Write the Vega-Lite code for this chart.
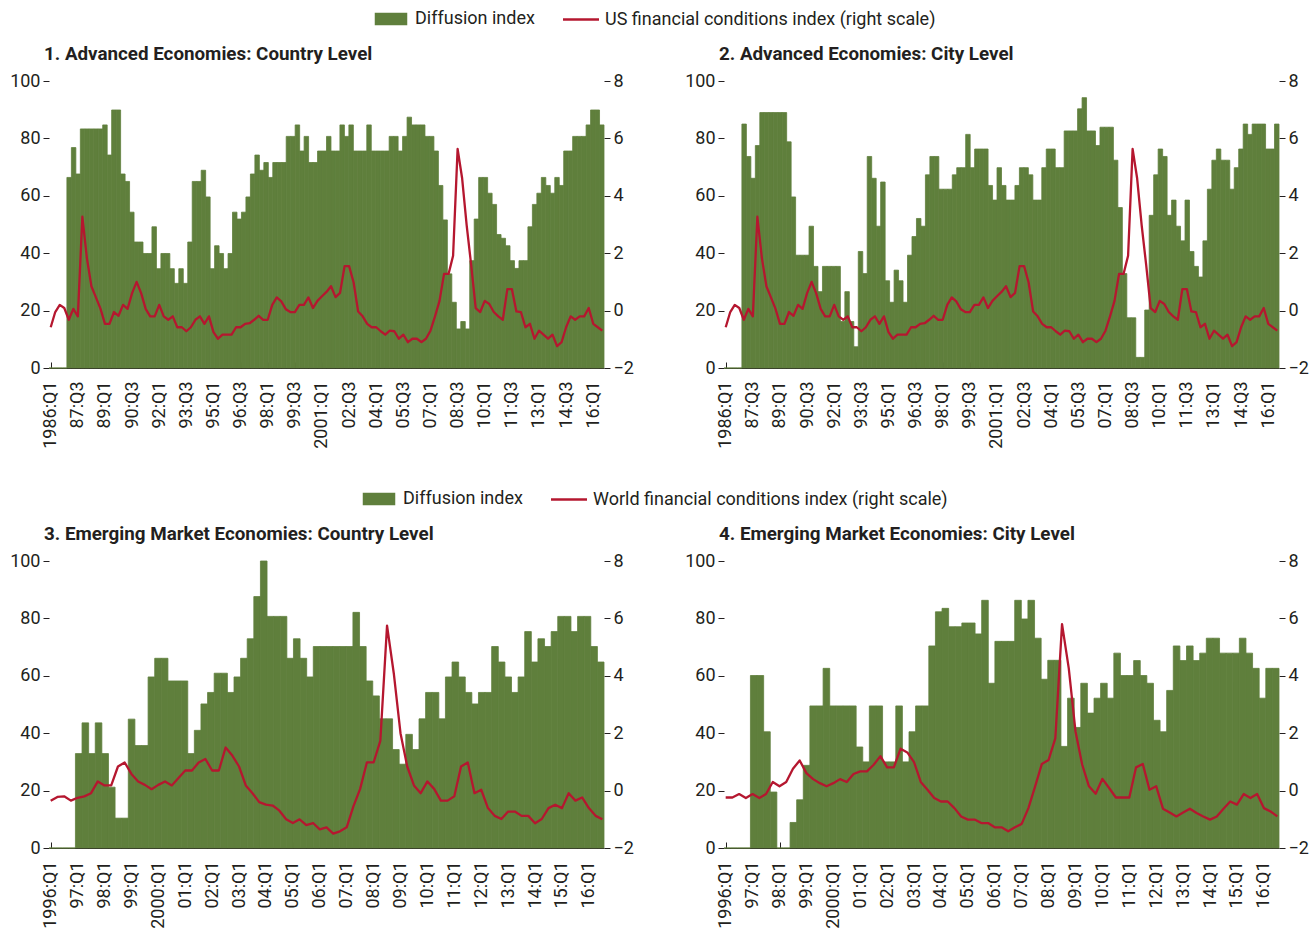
{
  "$schema": "https://vega.github.io/schema/vega-lite/v6.json",
  "background": "white",
  "padding": {"left": 9, "top": 10, "right": 0, "bottom": 0},
  "config": {
    "font": "Roboto",
    "view": {"stroke": null},
    "axis": {"labelFont": "Roboto", "labelFontSize": 18, "labelColor": "#231f20", "tickColor": "#231f20", "domainColor": "#231f20", "grid": false, "tickWidth": 1, "domainWidth": 1},
    "title": {"font": "Roboto", "fontSize": 18.8, "fontWeight": "bold", "color": "#231f20", "anchor": "start"},
    "legend": {"labelFont": "Roboto", "labelFontSize": 18, "labelColor": "#231f20", "labelLimit": 600, "layout": {"top": {"anchor": "middle"}}}
  },
  "datasets": {
    "top": [
      {"q":"1986:Q1","a":0,"b":0,"f":-0.58},{"q":"86:Q2","a":0,"b":0,"f":-0.05},{"q":"86:Q3","a":0,"b":0,"f":0.2},{"q":"86:Q4","a":0,"b":0,"f":0.09},
      {"q":"87:Q1","a":66.4,"b":85,"f":-0.32},{"q":"87:Q2","a":76.8,"b":73.7,"f":0.06},{"q":"87:Q3","a":67.6,"b":66.1,"f":-0.2},{"q":"87:Q4","a":83.3,"b":77.5,"f":3.27},
      {"q":"88:Q1","a":83.3,"b":89,"f":1.83},{"q":"88:Q2","a":83.3,"b":89,"f":0.85},{"q":"88:Q3","a":83.3,"b":89,"f":0.46},{"q":"88:Q4","a":83.3,"b":89,"f":0.07},
      {"q":"89:Q1","a":84.7,"b":89,"f":-0.46},{"q":"89:Q2","a":74.2,"b":89,"f":-0.46},{"q":"89:Q3","a":89.9,"b":78.8,"f":-0.05},{"q":"89:Q4","a":89.9,"b":59.6,"f":-0.18},
      {"q":"90:Q1","a":67.6,"b":39.3,"f":0.2},{"q":"90:Q2","a":65,"b":39.3,"f":0.06},{"q":"90:Q3","a":54.3,"b":39.3,"f":0.61},{"q":"90:Q4","a":43.9,"b":49.4,"f":1.0},
      {"q":"91:Q1","a":43.9,"b":35.4,"f":0.61},{"q":"91:Q2","a":39.9,"b":26.6,"f":0.06},{"q":"91:Q3","a":39.9,"b":35.4,"f":-0.2},{"q":"91:Q4","a":49.2,"b":35.4,"f":-0.2},
      {"q":"92:Q1","a":34.6,"b":35.4,"f":0.2},{"q":"92:Q2","a":39.9,"b":35.4,"f":-0.2},{"q":"92:Q3","a":39.9,"b":16.2,"f":-0.32},{"q":"92:Q4","a":34.6,"b":26.6,"f":-0.2},
      {"q":"93:Q1","a":29.5,"b":16.2,"f":-0.58},{"q":"93:Q2","a":34.6,"b":7.4,"f":-0.58},{"q":"93:Q3","a":29.5,"b":40.6,"f":-0.72},{"q":"93:Q4","a":43.9,"b":32.9,"f":-0.58},
      {"q":"94:Q1","a":65,"b":73.7,"f":-0.32},{"q":"94:Q2","a":65,"b":66.1,"f":-0.2},{"q":"94:Q3","a":68.9,"b":49.4,"f":-0.46},{"q":"94:Q4","a":59.6,"b":64.8,"f":-0.2},
      {"q":"95:Q1","a":34.6,"b":30.4,"f":-0.75},{"q":"95:Q2","a":42.6,"b":22.9,"f":-0.98},{"q":"95:Q3","a":39.9,"b":34.1,"f":-0.84},{"q":"95:Q4","a":34.6,"b":30.4,"f":-0.84},
      {"q":"96:Q1","a":39.9,"b":22.9,"f":-0.84},{"q":"96:Q2","a":54.3,"b":39.3,"f":-0.58},{"q":"96:Q3","a":51.9,"b":45.8,"f":-0.58},{"q":"96:Q4","a":54.3,"b":52.1,"f":-0.46},
      {"q":"97:Q1","a":59.6,"b":49.4,"f":-0.44},{"q":"97:Q2","a":67.6,"b":67.3,"f":-0.32},{"q":"97:Q3","a":74.2,"b":73.7,"f":-0.18},{"q":"97:Q4","a":68.9,"b":73.7,"f":-0.32},
      {"q":"98:Q1","a":71.6,"b":62.3,"f":-0.32},{"q":"98:Q2","a":66.4,"b":62.3,"f":0.2},{"q":"98:Q3","a":71.6,"b":62.3,"f":0.46},{"q":"98:Q4","a":71.6,"b":67.3,"f":0.32},
      {"q":"99:Q1","a":71.6,"b":69.8,"f":0.05},{"q":"99:Q2","a":80.7,"b":69.8,"f":-0.05},{"q":"99:Q3","a":80.7,"b":81.4,"f":-0.05},{"q":"99:Q4","a":84.7,"b":69.8,"f":0.2},
      {"q":"00:Q1","a":75.6,"b":76.3,"f":0.2},{"q":"00:Q2","a":80.7,"b":76.3,"f":0.46},{"q":"00:Q3","a":71.6,"b":76.3,"f":0.09},{"q":"00:Q4","a":71.6,"b":63.6,"f":0.34},
      {"q":"2001:Q1","a":75.6,"b":58.5,"f":0.5},{"q":"01:Q2","a":75.6,"b":69.8,"f":0.65},{"q":"01:Q3","a":80.7,"b":63.6,"f":0.85},{"q":"01:Q4","a":75.6,"b":58.5,"f":0.47},
      {"q":"02:Q1","a":75.6,"b":58.5,"f":0.62},{"q":"02:Q2","a":84.7,"b":63.6,"f":1.55},{"q":"02:Q3","a":80.7,"b":69.8,"f":1.55},{"q":"02:Q4","a":84.7,"b":69.8,"f":0.98},
      {"q":"03:Q1","a":75.6,"b":67.3,"f":-0.03},{"q":"03:Q2","a":75.6,"b":58.5,"f":-0.2},{"q":"03:Q3","a":75.6,"b":58.5,"f":-0.46},{"q":"03:Q4","a":84.7,"b":69.8,"f":-0.58},
      {"q":"04:Q1","a":75.6,"b":76.3,"f":-0.58},{"q":"04:Q2","a":75.6,"b":76.3,"f":-0.72},{"q":"04:Q3","a":75.6,"b":69.8,"f":-0.84},{"q":"04:Q4","a":75.6,"b":69.8,"f":-0.7},
      {"q":"05:Q1","a":80.7,"b":82.6,"f":-0.72},{"q":"05:Q2","a":80.7,"b":82.6,"f":-0.98},{"q":"05:Q3","a":75.6,"b":82.6,"f":-0.84},{"q":"05:Q4","a":80.7,"b":90.3,"f":-1.1},
      {"q":"06:Q1","a":87.4,"b":94.2,"f":-0.98},{"q":"06:Q2","a":84.7,"b":82.6,"f":-0.98},{"q":"06:Q3","a":84.7,"b":82.6,"f":-1.1},{"q":"06:Q4","a":84.7,"b":77.5,"f":-0.98},
      {"q":"07:Q1","a":80.7,"b":83.9,"f":-0.7},{"q":"07:Q2","a":80.7,"b":83.9,"f":-0.2},{"q":"07:Q3","a":75.6,"b":83.9,"f":0.34},{"q":"07:Q4","a":63.6,"b":72.4,"f":1.28},
      {"q":"08:Q1","a":51.6,"b":55.9,"f":1.28},{"q":"08:Q2","a":32.8,"b":32.9,"f":1.91},{"q":"08:Q3","a":22.9,"b":17.5,"f":5.63},{"q":"08:Q4","a":13.6,"b":17.5,"f":4.61},
      {"q":"09:Q1","a":16.2,"b":3.7,"f":2.98},{"q":"09:Q2","a":13.6,"b":3.7,"f":1.59},{"q":"09:Q3","a":37.4,"b":20.2,"f":0.09},{"q":"09:Q4","a":51.9,"b":53.2,"f":-0.05},
      {"q":"10:Q1","a":66.4,"b":67.3,"f":0.34},{"q":"10:Q2","a":66.4,"b":76.3,"f":0.23},{"q":"10:Q3","a":60.9,"b":73.7,"f":-0.05},{"q":"10:Q4","a":57,"b":53.2,"f":-0.2},
      {"q":"11:Q1","a":46.5,"b":58.5,"f":-0.32},{"q":"11:Q2","a":45.2,"b":49.4,"f":0.75},{"q":"11:Q3","a":42.6,"b":44.3,"f":0.75},{"q":"11:Q4","a":37.4,"b":58.5,"f":-0.03},
      {"q":"12:Q1","a":34.7,"b":40.6,"f":-0.05},{"q":"12:Q2","a":37.4,"b":35.4,"f":-0.58},{"q":"12:Q3","a":37.4,"b":31.7,"f":-0.46},{"q":"12:Q4","a":49.2,"b":44.3,"f":-0.98},
      {"q":"13:Q1","a":57,"b":62.3,"f":-0.7},{"q":"13:Q2","a":60.9,"b":72.4,"f":-0.84},{"q":"13:Q3","a":66.4,"b":76.3,"f":-0.98},{"q":"13:Q4","a":63.6,"b":72.4,"f":-0.84},
      {"q":"14:Q1","a":60.9,"b":72.4,"f":-1.24},{"q":"14:Q2","a":66.4,"b":62.3,"f":-1.1},{"q":"14:Q3","a":63.6,"b":69.8,"f":-0.58},{"q":"14:Q4","a":75.6,"b":76.3,"f":-0.2},
      {"q":"15:Q1","a":75.6,"b":85,"f":-0.32},{"q":"15:Q2","a":80.7,"b":81.4,"f":-0.2},{"q":"15:Q3","a":80.7,"b":85,"f":-0.2},{"q":"15:Q4","a":80.7,"b":85,"f":0.09},
      {"q":"16:Q1","a":84.7,"b":85,"f":-0.46},{"q":"16:Q2","a":89.9,"b":76.3,"f":-0.58},{"q":"16:Q3","a":89.9,"b":76.3,"f":-0.7},{"q":"16:Q4","a":84.7,"b":85,"f":null}
    ],
    "bot": [
      {"q":"1996:Q1","c":0,"d":0,"w":-0.35,"v":-0.24},{"q":"96:Q2","c":0,"d":0,"w":-0.22,"v":-0.24},{"q":"96:Q3","c":0,"d":0,"w":-0.2,"v":-0.12},{"q":"96:Q4","c":0,"d":0,"w":-0.35,"v":-0.26},
      {"q":"97:Q1","c":32.9,"d":60.1,"w":-0.25,"v":-0.12},{"q":"97:Q2","c":43.6,"d":60.1,"w":-0.2,"v":-0.26},{"q":"97:Q3","c":32.9,"d":40.5,"w":-0.09,"v":-0.12},{"q":"97:Q4","c":43.6,"d":19.5,"w":0.32,"v":0.3},
      {"q":"98:Q1","c":32.9,"d":0,"w":0.18,"v":0.15},{"q":"98:Q2","c":21.2,"d":0,"w":0.18,"v":0.3},{"q":"98:Q3","c":10.4,"d":8.9,"w":0.84,"v":0.76},{"q":"98:Q4","c":10.4,"d":16.8,"w":0.98,"v":1.05},
      {"q":"99:Q1","c":44.9,"d":28.8,"w":0.58,"v":0.61},{"q":"99:Q2","c":35.7,"d":49.5,"w":0.32,"v":0.4},{"q":"99:Q3","c":35.7,"d":49.5,"w":0.2,"v":0.26},{"q":"99:Q4","c":59.6,"d":62.6,"w":0.05,"v":0.15},
      {"q":"2000:Q1","c":66.1,"d":49.5,"w":0.2,"v":0.26},{"q":"00:Q2","c":66.1,"d":49.5,"w":0.32,"v":0.4},{"q":"00:Q3","c":58.2,"d":49.5,"w":0.18,"v":0.3},{"q":"00:Q4","c":58.2,"d":49.5,"w":0.44,"v":0.58},
      {"q":"01:Q1","c":58.2,"d":35.2,"w":0.7,"v":0.67},{"q":"01:Q2","c":32.9,"d":30,"w":0.7,"v":0.67},{"q":"01:Q3","c":41,"d":49.5,"w":0.98,"v":0.9},{"q":"01:Q4","c":50.2,"d":49.5,"w":1.1,"v":1.2},
      {"q":"02:Q1","c":54.2,"d":30,"w":0.7,"v":0.81},{"q":"02:Q2","c":60.9,"d":30,"w":0.7,"v":0.81},{"q":"02:Q3","c":60.9,"d":49.5,"w":1.5,"v":1.46},{"q":"02:Q4","c":54.2,"d":30,"w":1.22,"v":1.33},
      {"q":"03:Q1","c":59.6,"d":40.5,"w":0.84,"v":0.99},{"q":"03:Q2","c":66.1,"d":49.5,"w":0.18,"v":0.3},{"q":"03:Q3","c":72.9,"d":49.5,"w":-0.09,"v":0.03},{"q":"03:Q4","c":87.6,"d":70.4,"w":-0.4,"v":-0.26},
      {"q":"04:Q1","c":100,"d":82.3,"w":-0.49,"v":-0.38},{"q":"04:Q2","c":80.7,"d":83.5,"w":-0.52,"v":-0.38},{"q":"04:Q3","c":80.7,"d":77.1,"w":-0.7,"v":-0.61},{"q":"04:Q4","c":80.7,"d":77.1,"w":-1.0,"v":-0.9},
      {"q":"05:Q1","c":66.1,"d":78.4,"w":-1.13,"v":-1.01},{"q":"05:Q2","c":72.9,"d":78.4,"w":-1.0,"v":-1.01},{"q":"05:Q3","c":66.1,"d":74.6,"w":-1.2,"v":-1.13},{"q":"05:Q4","c":59.6,"d":86.3,"w":-1.13,"v":-1.13},
      {"q":"06:Q1","c":70.2,"d":57.4,"w":-1.35,"v":-1.28},{"q":"06:Q2","c":70.2,"d":72,"w":-1.28,"v":-1.28},{"q":"06:Q3","c":70.2,"d":72,"w":-1.5,"v":-1.42},{"q":"06:Q4","c":70.2,"d":72,"w":-1.42,"v":-1.28},
      {"q":"07:Q1","c":70.2,"d":86.3,"w":-1.28,"v":-1.16},{"q":"07:Q2","c":70.2,"d":79.8,"w":-0.55,"v":-0.61},{"q":"07:Q3","c":82.1,"d":86.3,"w":0.06,"v":0.15},{"q":"07:Q4","c":70.2,"d":73.1,"w":0.98,"v":0.93},
      {"q":"08:Q1","c":58.2,"d":58.8,"w":0.98,"v":1.07},{"q":"08:Q2","c":53,"d":65.4,"w":1.73,"v":1.82},{"q":"08:Q3","c":45,"d":65.4,"w":5.75,"v":5.8},{"q":"08:Q4","c":45,"d":35.4,"w":4.09,"v":4.26},
      {"q":"09:Q1","c":34.3,"d":52.2,"w":2.0,"v":2.06},{"q":"09:Q2","c":29.2,"d":42,"w":0.84,"v":0.9},{"q":"09:Q3","c":39.6,"d":57.4,"w":0.18,"v":0.15},{"q":"09:Q4","c":34.3,"d":47,"w":-0.09,"v":-0.11},
      {"q":"10:Q1","c":45,"d":52.2,"w":0.32,"v":0.41},{"q":"10:Q2","c":54.2,"d":57.4,"w":0.06,"v":0.09},{"q":"10:Q3","c":54.2,"d":52.2,"w":-0.35,"v":-0.24},{"q":"10:Q4","c":45,"d":67.9,"w":-0.35,"v":-0.24},
      {"q":"11:Q1","c":59.6,"d":60.1,"w":-0.2,"v":-0.24},{"q":"11:Q2","c":64.8,"d":60.1,"w":0.84,"v":0.81},{"q":"11:Q3","c":59.6,"d":65.3,"w":0.98,"v":0.93},{"q":"11:Q4","c":54.2,"d":60.1,"w":-0.09,"v":0.03},
      {"q":"12:Q1","c":50.2,"d":57.4,"w":0.03,"v":0.15},{"q":"12:Q2","c":54.2,"d":44.5,"w":-0.61,"v":-0.63},{"q":"12:Q3","c":54.2,"d":40.5,"w":-0.88,"v":-0.76},{"q":"12:Q4","c":70.2,"d":54.9,"w":-0.99,"v":-0.9},
      {"q":"13:Q1","c":64.8,"d":70.4,"w":-0.73,"v":-0.76},{"q":"13:Q2","c":59.6,"d":65.3,"w":-0.73,"v":-0.63},{"q":"13:Q3","c":54.2,"d":70.4,"w":-0.88,"v":-0.78},{"q":"13:Q4","c":59.6,"d":65.3,"w":-0.88,"v":-0.9},
      {"q":"14:Q1","c":75.4,"d":67.9,"w":-1.14,"v":-1.01},{"q":"14:Q2","c":64.8,"d":73.1,"w":-0.99,"v":-0.9},{"q":"14:Q3","c":72.9,"d":73.1,"w":-0.61,"v":-0.63},{"q":"14:Q4","c":70.2,"d":67.9,"w":-0.49,"v":-0.38},
      {"q":"15:Q1","c":75.4,"d":67.9,"w":-0.61,"v":-0.49},{"q":"15:Q2","c":80.7,"d":67.9,"w":-0.09,"v":-0.12},{"q":"15:Q3","c":80.7,"d":73.1,"w":-0.35,"v":-0.26},{"q":"15:Q4","c":75.4,"d":67.9,"w":-0.24,"v":-0.12},
      {"q":"16:Q1","c":80.7,"d":62.6,"w":-0.61,"v":-0.61},{"q":"16:Q2","c":80.7,"d":52.2,"w":-0.88,"v":-0.73},{"q":"16:Q3","c":70.2,"d":62.6,"w":-1.0,"v":-0.9},{"q":"16:Q4","c":64.8,"d":62.6,"w":null,"v":null}
    ]
  },
  "resolve": {"scale": {"color": "independent"}, "legend": {"color": "independent"}},
  "spacing": 41,
  "vconcat": [
    {
      "spacing": 50,
      "hconcat": [
        {
          "width": 555, "height": 287,
          "title": {"text": "1. Advanced Economies: Country Level", "frame": "group", "dx": -5, "offset": 8},
          "data": {"name": "top"},
          "resolve": {"scale": {"x": "independent", "y": "independent"}},
          "layer": [
            {"mark": {"type": "bar", "stroke": "#5f7f3c", "strokeWidth": 0.8},
             "encoding": {
               "x": {"field": "q", "type": "ordinal", "sort": null, "scale": {"type": "band", "paddingInner": 0, "paddingOuter": 0}, "axis": null},
               "y": {"field": "a", "type": "quantitative", "scale": {"domain": [0, 100], "nice": false}, "axis": {"values": [0, 20, 40, 60, 80, 100], "title": null, "domain": false, "tickSize": 6, "labelPadding": 3}},
               "color": {"datum": "Diffusion index", "type": "nominal",
                 "scale": {"domain": ["Diffusion index", "US financial conditions index (right scale)"], "range": ["#5f7f3c", "#b5172f"]},
                 "legend": {"orient": "top", "direction": "horizontal", "title": null, "symbolSize": 100, "columnPadding": 23, "labelOffset": 15, "offset": 16,
                   "symbolType": {"expr": "datum.value === 'Diffusion index' ? 'M-3,-1H3V1H-3Z' : 'M-3.6,0H3.6'"},
                   "symbolStrokeColor": {"expr": "datum.value === 'Diffusion index' ? 'transparent' : '#b5172f'"},
                   "symbolStrokeWidth": 2.5}}
             }},
            {"transform": [{"filter": "isValid(datum.f)"}],
             "mark": {"type": "line", "strokeWidth": 2.3, "strokeJoin": "round"},
             "encoding": {
               "x": {"field": "q", "type": "ordinal", "sort": null, "scale": {"type": "point", "padding": 0.38},
                 "axis": {"values": ["1986:Q1","87:Q3","89:Q1","90:Q3","92:Q1","93:Q3","95:Q1","96:Q3","98:Q1","99:Q3","2001:Q1","02:Q3","04:Q1","05:Q3","07:Q1","08:Q3","10:Q1","11:Q3","13:Q1","14:Q3","16:Q1"],
                   "title": null, "labelAngle": -90, "labelAlign": "right", "labelBaseline": "middle", "tickSize": -6, "labelPadding": 19, "domain": true}},
               "y": {"field": "f", "type": "quantitative", "scale": {"domain": [-2, 8], "nice": false, "zero": false}, "axis": {"orient": "right", "values": [-2, 0, 2, 4, 6, 8], "title": null, "domain": false, "tickSize": 6, "labelPadding": 3}},
               "color": {"datum": "US financial conditions index (right scale)", "type": "nominal"}
             }}
          ]
        },
        {
          "width": 555, "height": 287,
          "title": {"text": "2. Advanced Economies: City Level", "frame": "group", "dx": -5, "offset": 8},
          "data": {"name": "top"},
          "resolve": {"scale": {"x": "independent", "y": "independent"}},
          "layer": [
            {"mark": {"type": "bar", "stroke": "#5f7f3c", "strokeWidth": 0.8},
             "encoding": {
               "x": {"field": "q", "type": "ordinal", "sort": null, "scale": {"type": "band", "paddingInner": 0, "paddingOuter": 0}, "axis": null},
               "y": {"field": "b", "type": "quantitative", "scale": {"domain": [0, 100], "nice": false}, "axis": {"values": [0, 20, 40, 60, 80, 100], "title": null, "domain": false, "tickSize": 6, "labelPadding": 3}},
               "color": {"datum": "Diffusion index", "type": "nominal",
                 "scale": {"domain": ["Diffusion index", "US financial conditions index (right scale)"], "range": ["#5f7f3c", "#b5172f"]},
                 "legend": {"orient": "top", "direction": "horizontal", "title": null, "symbolSize": 100, "columnPadding": 23, "labelOffset": 15, "offset": 16,
                   "symbolType": {"expr": "datum.value === 'Diffusion index' ? 'M-3,-1H3V1H-3Z' : 'M-3.6,0H3.6'"},
                   "symbolStrokeColor": {"expr": "datum.value === 'Diffusion index' ? 'transparent' : '#b5172f'"},
                   "symbolStrokeWidth": 2.5}}
             }},
            {"transform": [{"filter": "isValid(datum.f)"}],
             "mark": {"type": "line", "strokeWidth": 2.3, "strokeJoin": "round"},
             "encoding": {
               "x": {"field": "q", "type": "ordinal", "sort": null, "scale": {"type": "point", "padding": 0.38},
                 "axis": {"values": ["1986:Q1","87:Q3","89:Q1","90:Q3","92:Q1","93:Q3","95:Q1","96:Q3","98:Q1","99:Q3","2001:Q1","02:Q3","04:Q1","05:Q3","07:Q1","08:Q3","10:Q1","11:Q3","13:Q1","14:Q3","16:Q1"],
                   "title": null, "labelAngle": -90, "labelAlign": "right", "labelBaseline": "middle", "tickSize": -6, "labelPadding": 19, "domain": true}},
               "y": {"field": "f", "type": "quantitative", "scale": {"domain": [-2, 8], "nice": false, "zero": false}, "axis": {"orient": "right", "values": [-2, 0, 2, 4, 6, 8], "title": null, "domain": false, "tickSize": 6, "labelPadding": 3}},
               "color": {"datum": "US financial conditions index (right scale)", "type": "nominal"}
             }}
          ]
        }
      ]
    },
    {
      "spacing": 50,
      "hconcat": [
        {
          "width": 555, "height": 287,
          "title": {"text": "3. Emerging Market Economies: Country Level", "frame": "group", "dx": -5, "offset": 8},
          "data": {"name": "bot"},
          "resolve": {"scale": {"x": "independent", "y": "independent"}},
          "layer": [
            {"mark": {"type": "bar", "stroke": "#5f7f3c", "strokeWidth": 0.8},
             "encoding": {
               "x": {"field": "q", "type": "ordinal", "sort": null, "scale": {"type": "band", "paddingInner": 0, "paddingOuter": 0}, "axis": null},
               "y": {"field": "c", "type": "quantitative", "scale": {"domain": [0, 100], "nice": false}, "axis": {"values": [0, 20, 40, 60, 80, 100], "title": null, "domain": false, "tickSize": 6, "labelPadding": 3}},
               "color": {"datum": "Diffusion index", "type": "nominal",
                 "scale": {"domain": ["Diffusion index", "World financial conditions index (right scale)"], "range": ["#5f7f3c", "#b5172f"]},
                 "legend": {"orient": "top", "direction": "horizontal", "title": null, "symbolSize": 100, "columnPadding": 23, "labelOffset": 15, "offset": 16,
                   "symbolType": {"expr": "datum.value === 'Diffusion index' ? 'M-3,-1H3V1H-3Z' : 'M-3.6,0H3.6'"},
                   "symbolStrokeColor": {"expr": "datum.value === 'Diffusion index' ? 'transparent' : '#b5172f'"},
                   "symbolStrokeWidth": 2.5}}
             }},
            {"transform": [{"filter": "isValid(datum.w)"}],
             "mark": {"type": "line", "strokeWidth": 2.3, "strokeJoin": "round"},
             "encoding": {
               "x": {"field": "q", "type": "ordinal", "sort": null, "scale": {"type": "point", "padding": 0.25},
                 "axis": {"values": ["1996:Q1","97:Q1","98:Q1","99:Q1","2000:Q1","01:Q1","02:Q1","03:Q1","04:Q1","05:Q1","06:Q1","07:Q1","08:Q1","09:Q1","10:Q1","11:Q1","12:Q1","13:Q1","14:Q1","15:Q1","16:Q1"],
                   "title": null, "labelAngle": -90, "labelAlign": "right", "labelBaseline": "middle", "tickSize": -6, "labelPadding": 19, "domain": true}},
               "y": {"field": "w", "type": "quantitative", "scale": {"domain": [-2, 8], "nice": false, "zero": false}, "axis": {"orient": "right", "values": [-2, 0, 2, 4, 6, 8], "title": null, "domain": false, "tickSize": 6, "labelPadding": 3}},
               "color": {"datum": "World financial conditions index (right scale)", "type": "nominal"}
             }}
          ]
        },
        {
          "width": 555, "height": 287,
          "title": {"text": "4. Emerging Market Economies: City Level", "frame": "group", "dx": -5, "offset": 8},
          "data": {"name": "bot"},
          "resolve": {"scale": {"x": "independent", "y": "independent"}},
          "layer": [
            {"mark": {"type": "bar", "stroke": "#5f7f3c", "strokeWidth": 0.8},
             "encoding": {
               "x": {"field": "q", "type": "ordinal", "sort": null, "scale": {"type": "band", "paddingInner": 0, "paddingOuter": 0}, "axis": null},
               "y": {"field": "d", "type": "quantitative", "scale": {"domain": [0, 100], "nice": false}, "axis": {"values": [0, 20, 40, 60, 80, 100], "title": null, "domain": false, "tickSize": 6, "labelPadding": 3}},
               "color": {"datum": "Diffusion index", "type": "nominal",
                 "scale": {"domain": ["Diffusion index", "World financial conditions index (right scale)"], "range": ["#5f7f3c", "#b5172f"]},
                 "legend": {"orient": "top", "direction": "horizontal", "title": null, "symbolSize": 100, "columnPadding": 23, "labelOffset": 15, "offset": 16,
                   "symbolType": {"expr": "datum.value === 'Diffusion index' ? 'M-3,-1H3V1H-3Z' : 'M-3.6,0H3.6'"},
                   "symbolStrokeColor": {"expr": "datum.value === 'Diffusion index' ? 'transparent' : '#b5172f'"},
                   "symbolStrokeWidth": 2.5}}
             }},
            {"transform": [{"filter": "isValid(datum.v)"}],
             "mark": {"type": "line", "strokeWidth": 2.3, "strokeJoin": "round"},
             "encoding": {
               "x": {"field": "q", "type": "ordinal", "sort": null, "scale": {"type": "point", "padding": 0.25},
                 "axis": {"values": ["1996:Q1","97:Q1","98:Q1","99:Q1","2000:Q1","01:Q1","02:Q1","03:Q1","04:Q1","05:Q1","06:Q1","07:Q1","08:Q1","09:Q1","10:Q1","11:Q1","12:Q1","13:Q1","14:Q1","15:Q1","16:Q1"],
                   "title": null, "labelAngle": -90, "labelAlign": "right", "labelBaseline": "middle", "tickSize": -6, "labelPadding": 19, "domain": true}},
               "y": {"field": "v", "type": "quantitative", "scale": {"domain": [-2, 8], "nice": false, "zero": false}, "axis": {"orient": "right", "values": [-2, 0, 2, 4, 6, 8], "title": null, "domain": false, "tickSize": 6, "labelPadding": 3}},
               "color": {"datum": "World financial conditions index (right scale)", "type": "nominal"}
             }}
          ]
        }
      ]
    }
  ]
}
